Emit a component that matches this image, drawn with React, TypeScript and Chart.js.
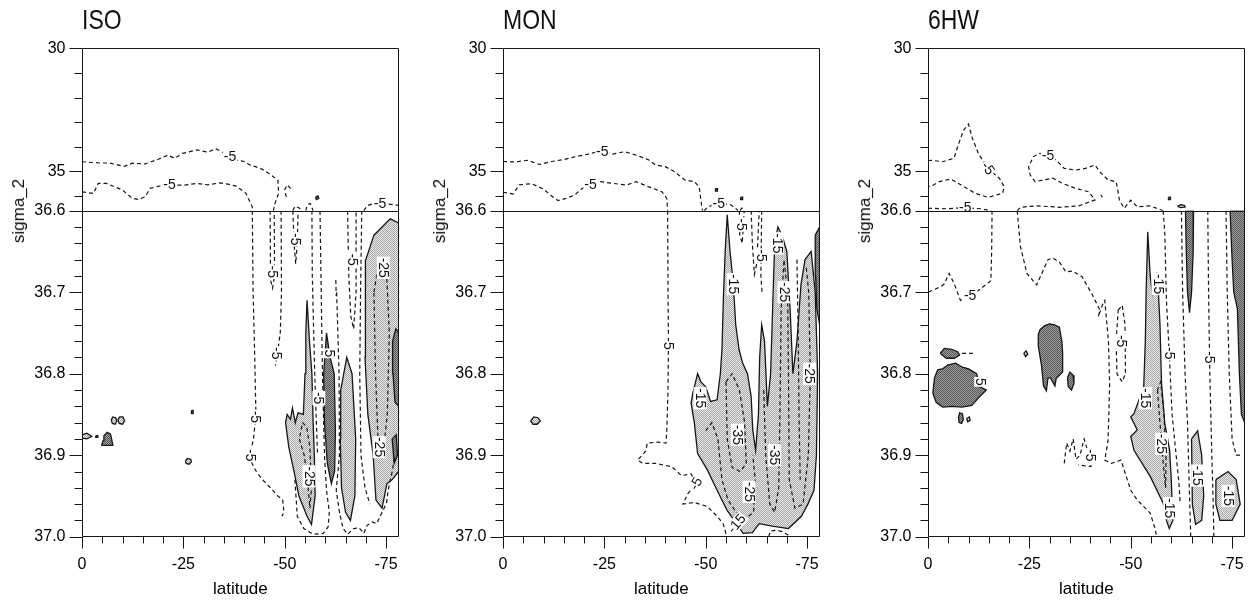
import React, { useEffect, useRef } from 'react';
import { Chart, registerables } from 'chart.js';

Chart.register(...registerables);

type Pt = [number, number];
type Sec = 'T' | 'B';
type Kind = 'dash' | 'light' | 'dark';
type Label = [number, number, string, number, Sec];

const FONT = '"Liberation Sans", Arial, Helvetica, sans-serif';

// ---------- axes ----------
const X_MIN = -78.1;
const X_MAX = 0;
const X_TICKS = [0, -25, -50, -75];
const X_MINOR = [-5, -10, -15, -20, -30, -35, -40, -45, -55, -60, -65, -70];
const Y_TOP_TICKS = [30, 35, 36.6];
const Y_TOP_MINOR = [31, 32, 33, 34, 36];
const Y_BOT_TICKS = [36.7, 36.8, 36.9, 37.0];
const Y_BOT_MINOR = [36.62, 36.64, 36.66, 36.68, 36.72, 36.74, 36.76, 36.78, 36.82, 36.84, 36.86, 36.88, 36.92, 36.94, 36.96, 36.98];
const TITLES = ['ISO', 'MON', '6HW'];

// ---------- ISO ----------
const ISO_T_UPPER: Pt[] = [[0,34.61],[-4.4,34.66],[-6.8,34.66],[-10.4,34.8],[-12.4,34.67],[-15.6,34.7],[-18.8,34.51],[-21.2,34.34],[-22.8,34.47],[-24.8,34.27],[-28.4,34.13],[-31,34.22],[-33,34.08],[-35.5,34.3],[-38,34.54],[-40,34.6],[-41.5,34.75],[-42.8,34.81],[-44.5,34.92],[-46,35.08],[-48.3,35.35],[-48.5,35.89],[-47.6,36.3],[-47.2,36.6]];
const ISO_T_LOWER: Pt[] = [[0,35.83],[-2.8,35.9],[-4,35.49],[-6,35.49],[-10,35.76],[-12.4,36.1],[-14,36.14],[-15.6,36.03],[-16.8,35.69],[-19,35.6],[-21.6,35.56],[-25.2,35.56],[-28.4,35.49],[-31,35.55],[-34,35.47],[-36,35.52],[-38,35.6],[-40.4,35.89],[-42,36.44],[-42,36.6]];
const ISO_T_HOOK: Pt[] = [[-51.5,35.7],[-50.6,35.55],[-50,35.75],[-50.3,36.0],[-51,36.1]];
const ISO_T_ARCH1: Pt[] = [[-52,36.6],[-52.5,36.42],[-53.5,36.48],[-54.3,36.6]];
const ISO_T_ARCH2: Pt[] = [[-55.2,36.6],[-55.5,36.38],[-56.3,36.3],[-57,36.6]];
const ISO_T_RIGHT: Pt[] = [[-69.5,36.6],[-70.3,36.4],[-72,36.3],[-75,36.32],[-78.1,36.38]];
const ISO_T_DOT: Pt[] = [[-57.6,36.05],[-58.2,36.0],[-58.4,36.1],[-57.8,36.15],[-57.6,36.05]];
const ISO_B_OUTER: Pt[] = [[-42,36.6],[-42.2,36.7],[-42.6,36.78],[-42.9,36.85],[-42.3,36.88],[-41.6,36.895],[-41.9,36.91],[-43,36.92],[-44.5,36.93],[-46.5,36.94],[-48.3,36.95],[-49.5,36.955],[-49.8,36.97],[-49.3,36.975]];
const ISO_B_LOOP: Pt[] = [[-46.4,36.6],[-46.5,36.685],[-47,36.695],[-47.5,36.68],[-47.4,36.6]];
const ISO_B_D3: Pt[] = [[-49.1,36.6],[-49.2,36.7],[-48.9,36.75],[-48.2,36.775],[-47.7,36.79]];
const ISO_B_D4: Pt[] = [[-52,36.6],[-52.3,36.64],[-52.7,36.665],[-53.1,36.64],[-53.3,36.6]];
const ISO_B_D5: Pt[] = [[-56.7,36.6],[-56.8,36.68],[-57.1,36.74],[-57.4,36.8],[-57.8,36.86],[-58.1,36.9]];
const ISO_B_U1: Pt[] = [[-52.5,36.93],[-53.1,36.975],[-54.7,36.99],[-57,36.997],[-59.5,36.996],[-60.7,36.988],[-61,36.97],[-60.3,36.943],[-59.8,36.9],[-59.3,36.8],[-59,36.7],[-58.7,36.6]];
const ISO_B_U2: Pt[] = [[-62.8,36.7],[-63.4,36.8],[-63.5,36.9],[-62.7,36.943],[-63.5,36.97],[-64.4,36.99],[-65.5,36.997],[-67,36.99],[-68.3,36.989],[-69.5,36.996],[-70.3,36.986],[-71.6,36.982],[-72.7,36.984],[-73.5,36.975],[-75.1,36.959],[-75.5,36.943],[-76.5,36.92],[-77.2,36.9]];
const ISO_B_DOTS: Pt[] = [[-62.6,36.685],[-62.7,36.705]];
const ISO_B_D6: Pt[] = [[-65.5,36.6],[-65.8,36.68],[-66.3,36.73],[-67,36.745],[-67.6,36.7],[-67.6,36.6]];
const ISO_B_D7: Pt[] = [[-69,36.6],[-68.7,36.7],[-68.5,36.8],[-68.8,36.9],[-69.8,36.94],[-71,36.96]];
const ISO_B_L1: Pt[] = [[-55.5,36.71],[-56.1,36.76],[-56.7,36.8],[-57,36.86],[-57.3,36.9],[-57.5,36.95],[-56.6,36.985],[-55.5,36.975],[-53.5,36.95],[-52.3,36.92],[-51,36.89],[-50.2,36.86],[-50.6,36.85],[-51.4,36.856],[-51.9,36.842],[-52.6,36.86],[-53.3,36.848],[-54.6,36.85],[-55,36.8],[-55.2,36.75],[-55.5,36.71]];
const ISO_B_L1_IN: Pt[] = [[-53.6,36.88],[-54.8,36.9],[-55.6,36.93],[-56.2,36.965],[-56.6,36.94],[-56.2,36.89],[-55.4,36.865],[-54.4,36.86],[-53.6,36.88]];
const ISO_B_DK1: Pt[] = [[-60.3,36.75],[-61.2,36.78],[-62.2,36.8],[-62.5,36.87],[-62.3,36.92],[-61.5,36.935],[-60.5,36.91],[-59.8,36.86],[-59.6,36.8],[-60.3,36.75]];
const ISO_B_L2: Pt[] = [[-63.8,36.82],[-65.3,36.78],[-66.6,36.8],[-67.5,36.88],[-67.3,36.95],[-66.2,36.98],[-65,36.97],[-64,36.94],[-63.7,36.88],[-63.8,36.82]];
const ISO_B_L3: Pt[] = [[-70,36.66],[-72,36.63],[-74,36.62],[-76,36.61],[-78.1,36.615],[-78.1,36.92],[-76.5,36.93],[-75.2,36.935],[-74,36.965],[-72.5,36.955],[-71.8,36.9],[-70.5,36.85],[-69.8,36.78],[-69.8,36.7],[-70,36.66]];
const ISO_B_L3_IN: Pt[] = [[-72,36.7],[-73.3,36.66],[-75,36.665],[-75.8,36.75],[-75.3,36.85],[-74.2,36.9],[-73,36.88],[-72.4,36.8],[-72,36.7]];
const ISO_B_DK2: Pt[] = [[-76.6,36.76],[-77.4,36.745],[-78.1,36.75],[-78.1,36.84],[-77.2,36.835],[-76.7,36.8],[-76.6,36.76]];
const ISO_B_DK3: Pt[] = [[-76.5,36.88],[-77.5,36.875],[-77.8,36.9],[-77,36.91],[-76.5,36.88]];
const ISO_B_BLOB: Pt[] = [[-4.8,36.888],[-5.2,36.882],[-5.4,36.876],[-6.2,36.872],[-7,36.874],[-7.3,36.88],[-7.6,36.888],[-4.8,36.888]];
const ISO_B_O1: Pt[] = [[-7.2,36.857],[-7.6,36.853],[-8.3,36.854],[-8.6,36.858],[-8.2,36.862],[-7.5,36.861],[-7.2,36.857]];
const ISO_B_O2: Pt[] = [[-8.8,36.857],[-9.3,36.853],[-10.1,36.853],[-10.5,36.858],[-10,36.862],[-9.2,36.861],[-8.8,36.857]];
const ISO_B_TEAR: Pt[] = [[0,36.875],[-1.2,36.873],[-2.4,36.877],[-1.2,36.88],[0,36.879]];
const ISO_B_DOT1: Pt[] = [[-3.4,36.876],[-3.9,36.876],[-3.9,36.878],[-3.4,36.878],[-3.4,36.876]];
const ISO_B_ELL: Pt[] = [[-25.5,36.907],[-26,36.904],[-26.8,36.905],[-27,36.908],[-26.4,36.911],[-25.7,36.91],[-25.5,36.907]];
const ISO_B_DOT2: Pt[] = [[-27,36.845],[-27.4,36.845],[-27.4,36.849],[-27,36.849],[-27,36.845]];
const ISO_LABELS: Label[] = [
  [-36.5,34.42,'-5',0,'T'],[-21.6,35.56,'-5',0,'T'],[-73.5,36.3,'-5',0,'T'],
  [-46.9,36.675,'-5',90,'B'],[-47.9,36.775,'-5',90,'B'],[-52.5,36.635,'-5',90,'B'],[-42.8,36.853,'-5',90,'B'],
  [-41.6,36.9,'-5',90,'B'],[-56,36.926,'-25',90,'B'],[-61,36.775,'5',90,'B'],[-66.6,36.66,'-5',90,'B'],
  [-74.3,36.67,'-25',90,'B'],[-73.3,36.89,'-25',90,'B'],[-58.4,36.83,'-5',90,'B'],
];

// ---------- MON ----------
const MON_T_UPPER: Pt[] = [[0,34.6],[-3,34.62],[-6,34.55],[-9,34.72],[-12,34.6],[-15,34.52],[-18,34.4],[-21,34.3],[-24,34.18],[-27,34.3],[-30,34.2],[-33,34.35],[-36,34.54],[-37.6,34.74],[-40,34.81],[-42.4,35.02],[-44.8,35.35],[-47.2,35.42],[-48.4,35.63],[-48.8,36.17],[-49.2,36.6]];
const MON_T_LOWER: Pt[] = [[0,35.85],[-2.5,35.92],[-4,35.55],[-7,35.5],[-10,35.72],[-12,36.0],[-13.6,36.19],[-15.5,36.1],[-17.6,35.97],[-19.5,35.7],[-21.6,35.56],[-24,35.42],[-27.2,35.49],[-30.4,35.56],[-32.8,35.42],[-36,35.63],[-39.2,35.83],[-40.4,36.1],[-40.6,36.6]];
const MON_T_RIGHT: Pt[] = [[-49.6,36.6],[-50.5,36.45],[-52,36.35],[-53.2,36.3],[-54.5,36.32],[-56,36.35],[-57,36.45],[-58,36.6]];
const MON_T_HOOK: Pt[] = [[-58.5,36.6],[-58.8,36.5],[-59.6,36.52]];
const MON_T_DOT1: Pt[] = [[-52.4,35.7],[-52.9,35.7],[-52.9,35.8],[-52.4,35.8],[-52.4,35.7]];
const MON_T_DOT2: Pt[] = [[-58.6,36.05],[-59.1,36.05],[-59.1,36.15],[-58.6,36.15],[-58.6,36.05]];
const MON_B_LONG: Pt[] = [[-40.6,36.6],[-40.7,36.7],[-40.8,36.76],[-40.7,36.82],[-40.4,36.869],[-40.2,36.885],[-38,36.884],[-35.6,36.885],[-35.2,36.895],[-33.2,36.906],[-34.5,36.91],[-37.6,36.91],[-39.5,36.912],[-41.6,36.914],[-44,36.925],[-46.4,36.923],[-47.6,36.935],[-45.6,36.947],[-44.4,36.96],[-47.2,36.958],[-50.4,36.963],[-52.8,36.975],[-54.3,36.984],[-55.2,37.0]];
const MON_B_LOOP1: Pt[] = [[-58.3,36.6],[-58.4,36.63],[-59,36.64],[-59.5,36.6]];
const MON_B_LOOP2: Pt[] = [[-61.2,36.6],[-61.5,36.64],[-62,36.678],[-62.6,36.665],[-63,36.62],[-63.2,36.6]];
const MON_B_VERT: Pt[] = [[-63.8,36.6],[-63.7,36.64],[-63.6,36.68],[-63.9,36.7]];
const MON_B_LIGHT: Pt[] = [[-55.3,36.605],[-56,36.65],[-56.8,36.69],[-57.4,36.74],[-58.2,36.77],[-59.1,36.787],[-60.3,36.8],[-61.2,36.828],[-61.6,36.869],[-62.3,36.894],[-63,36.85],[-63.3,36.78],[-63.8,36.74],[-64.5,36.76],[-65.2,36.84],[-66,36.8],[-66.5,36.72],[-67,36.64],[-67.8,36.62],[-68.8,36.63],[-70,36.65],[-70.8,36.72],[-71.5,36.8],[-72.5,36.76],[-73.5,36.69],[-74.5,36.66],[-76,36.65],[-77,36.7],[-77.6,36.8],[-77.3,36.9],[-76.7,36.943],[-75.2,36.96],[-73.6,36.975],[-70.4,36.99],[-66.4,36.987],[-63.2,36.984],[-61.5,36.995],[-59.2,36.996],[-57.6,36.984],[-55.2,36.967],[-52.8,36.943],[-50.4,36.918],[-48,36.898],[-47.2,36.861],[-46.4,36.836],[-46.8,36.824],[-48,36.8],[-48.8,36.81],[-50,36.816],[-51.2,36.834],[-52.8,36.832],[-53.6,36.8],[-54,36.771],[-54.4,36.7],[-54.8,36.65],[-55.3,36.605]];
const MON_B_IN35: Pt[] = [[-55,36.81],[-56.5,36.8],[-58.3,36.82],[-59.6,36.86],[-60,36.91],[-58.5,36.92],[-56.5,36.915],[-55.3,36.88],[-55,36.81]];
const MON_B_IN25: Pt[] = [[-50,36.87],[-51.5,36.86],[-53,36.88],[-54,36.93],[-55.5,36.955],[-57.5,36.97],[-60,36.977],[-61.8,36.97],[-62.2,36.93],[-61.6,36.9]];
const MON_B_INR: Pt[] = [[-64.3,36.82],[-64.8,36.9],[-65.8,36.96],[-67,36.97],[-68,36.94],[-68.3,36.85],[-68.6,36.72],[-69.3,36.66],[-70.2,36.7],[-70.4,36.8],[-70.6,36.93],[-72,36.965],[-74,36.96],[-75.3,36.9],[-75.8,36.8],[-75.4,36.7],[-74.8,36.67]];
const MON_B_INV: Pt[] = [[-72.5,36.66],[-72.8,36.75],[-73,36.85],[-73.3,36.93]];
const MON_B_DARK: Pt[] = [[-77,36.63],[-78.1,36.62],[-78.1,36.74],[-77.4,36.72],[-77.1,36.68],[-77,36.63]];
const MON_B_U: Pt[] = [[-65.5,37.0],[-66,36.993],[-67.5,36.992],[-69,36.994],[-70,36.997],[-71,37.0]];
const MON_B_BLOB: Pt[] = [[-6.8,36.858],[-7.6,36.853],[-8.6,36.854],[-9.2,36.858],[-8.4,36.862],[-7.4,36.862],[-6.8,36.858]];
const MON_LABELS: Label[] = [
  [-24.5,34.2,'-5',0,'T'],[-21.6,35.56,'-5',0,'T'],[-53.2,36.3,'-5',0,'T'],
  [-40.8,36.763,'-5',90,'B'],[-58.7,36.617,'-5',90,'B'],[-63.6,36.655,'-5',90,'B'],
  [-56.8,36.69,'-15',90,'B'],[-48.6,36.83,'-15',90,'B'],[-57.8,36.875,'-35',90,'B'],
  [-60.7,36.945,'-25',90,'B'],[-57.6,36.984,'-15',-50,'B'],[-47.6,36.935,'-5',-60,'B'],
  [-69.3,36.7,'-25',90,'B'],[-67.6,36.64,'-15',90,'B'],[-67,36.9,'-35',90,'B'],[-75.6,36.8,'-25',90,'B'],
];

// ---------- 6HW ----------
const HW_T_LOOP: Pt[] = [[0,34.57],[-0.8,34.55],[-3.6,34.61],[-6.4,34.47],[-7.6,33.86],[-8.8,33.32],[-10,33.08],[-10.8,33.59],[-12.4,34.27],[-14.8,34.88],[-17.6,35.28],[-18.8,35.63],[-18.4,35.89],[-14.8,36.06],[-11.6,35.89],[-6.8,35.42],[-5.6,35.31],[-2.8,35.42],[-0.8,35.6],[0,35.62]];
const HW_T_LOW: Pt[] = [[0,36.5],[-4,36.52],[-9.2,36.48],[-13,36.52],[-15.6,36.6]];
const HW_T_LONG: Pt[] = [[-22,36.6],[-22.8,36.46],[-26.8,36.4],[-32.4,36.46],[-37.2,36.4],[-41.2,36.16],[-39.6,35.83],[-36.4,35.69],[-33.2,35.49],[-30.8,35.28],[-28.4,35.35],[-26.4,35.42],[-25.2,35.15],[-24.8,34.81],[-26,34.4],[-27.6,34.27],[-29.6,34.35],[-31.6,34.54],[-33.6,34.88],[-36.4,34.95],[-38.8,34.88],[-41.2,34.74],[-42.4,35.02],[-44.4,35.35],[-46.4,35.42],[-46.8,35.76],[-47.2,36.17],[-48.4,36.5],[-50,36.17],[-51.6,36.44],[-54.8,36.4],[-57.2,36.55],[-58,36.6]];
const HW_T_TICK: Pt[] = [[-42.6,35.95],[-43,36.05]];
const HW_T_DOT: Pt[] = [[-59.3,36.05],[-59.8,36.05],[-59.8,36.15],[-59.3,36.15],[-59.3,36.05]];
const HW_T_OO: Pt[] = [[-61.5,36.42],[-62.3,36.35],[-63.2,36.38],[-63.4,36.45],[-62.4,36.47],[-61.5,36.42]];
const HW_B_D1: Pt[] = [[-15.8,36.6],[-15.7,36.65],[-15.5,36.686],[-12.4,36.698],[-10.4,36.704],[-8,36.71],[-6.5,36.69],[-5.2,36.677],[-4,36.69],[-2.8,36.694],[0,36.7]];
const HW_B_D2: Pt[] = [[-22,36.6],[-22.8,36.644],[-24.4,36.677],[-26.8,36.691],[-29.6,36.66],[-30.8,36.658],[-32.4,36.663],[-34,36.675],[-35.6,36.674],[-38,36.681],[-40.4,36.702],[-41.2,36.71],[-42.4,36.722],[-42,36.73],[-43.3,36.712],[-43.6,36.71],[-44.5,36.76],[-44.8,36.812],[-44.6,36.85],[-44.4,36.882],[-43.6,36.906],[-45.2,36.91],[-47.6,36.906],[-50,36.943],[-51.6,36.955],[-54.8,36.971],[-56,36.99],[-56.4,37.0]];
const HW_B_LOOP: Pt[] = [[-46.9,36.722],[-47.9,36.716],[-48.6,36.74],[-48.7,36.8],[-47.9,36.81],[-46.6,36.8],[-46.4,36.76],[-46.9,36.722]];
const HW_B_D3: Pt[] = [[-58,36.6],[-58.4,36.628],[-58.8,36.71],[-59.5,36.775],[-60.2,36.85],[-61.2,36.9],[-61.9,36.935],[-62.2,36.96]];
const HW_B_ZIG: Pt[] = [[-33.6,36.91],[-34.2,36.885],[-35,36.895],[-35.8,36.88],[-36.5,36.905],[-37.5,36.9],[-38.5,36.88],[-39.4,36.895],[-40.2,36.914],[-38.8,36.913],[-37,36.912]];
const HW_B_LIGHT: Pt[] = [[-54.2,36.626],[-54.8,36.68],[-55.3,36.7],[-55.8,36.68],[-56.4,36.677],[-56.8,36.698],[-57.2,36.738],[-57.6,36.812],[-58.4,36.861],[-59.6,36.894],[-60,36.931],[-60.4,36.98],[-59.5,36.99],[-58.8,36.98],[-58,36.959],[-54.8,36.926],[-50.8,36.894],[-50,36.877],[-51.6,36.869],[-50,36.853],[-50.8,36.849],[-53.2,36.816],[-53.6,36.76],[-53.8,36.7],[-54.2,36.626]];
const HW_B_LIGHT_IN: Pt[] = [[-56.6,36.82],[-57.2,36.86],[-58.2,36.92],[-58.6,36.94],[-58.7,36.9],[-58.2,36.85],[-57.4,36.81],[-56.6,36.82]];
const HW_B_DK1: Pt[] = [[-2.4,36.795],[-3.6,36.794],[-5,36.789],[-6.8,36.787],[-8.5,36.792],[-10,36.794],[-12,36.8],[-12.8,36.816],[-14.4,36.82],[-13.2,36.826],[-12.4,36.83],[-10.8,36.839],[-8.4,36.841],[-6,36.84],[-3.6,36.841],[-2,36.835],[-1.2,36.824],[-1.6,36.805],[-2.4,36.795]];
const HW_B_DK2: Pt[] = [[-3,36.775],[-4,36.769],[-5.8,36.77],[-7.3,36.773],[-7.8,36.777],[-6.5,36.781],[-4.5,36.781],[-3,36.775]];
const HW_B_TAIL: Pt[] = [[-8.4,36.775],[-11.2,36.775]];
const HW_B_DK3: Pt[] = [[-7.5,36.854],[-7.8,36.848],[-8.5,36.849],[-8.7,36.856],[-8.3,36.861],[-7.7,36.86],[-7.5,36.854]];
const HW_B_O1: Pt[] = [[-9.5,36.855],[-10.2,36.853],[-10.4,36.857],[-9.8,36.859],[-9.5,36.855]];
const HW_B_O2: Pt[] = [[-23.6,36.775],[-24.2,36.772],[-24.6,36.776],[-24.1,36.779],[-23.6,36.775]];
const HW_B_DK4: Pt[] = [[-27.6,36.746],[-28.8,36.741],[-30,36.739],[-31.2,36.74],[-32.4,36.743],[-33,36.76],[-33.2,36.774],[-33.2,36.798],[-31.6,36.806],[-31.3,36.815],[-30.2,36.805],[-29.6,36.805],[-29.2,36.821],[-28.5,36.815],[-28,36.79],[-27.2,36.766],[-27.2,36.752],[-27.6,36.746]];
const HW_B_DK5: Pt[] = [[-34.4,36.805],[-35,36.798],[-35.8,36.802],[-36,36.812],[-35.4,36.82],[-34.6,36.816],[-34.4,36.805]];
const HW_B_DKA: Pt[] = [[-63.5,36.6],[-65.5,36.6],[-65.4,36.65],[-65,36.7],[-64.5,36.725],[-64,36.7],[-63.7,36.65],[-63.5,36.6]];
const HW_B_DKB: Pt[] = [[-74.5,36.6],[-78.1,36.6],[-78.1,36.86],[-77.3,36.85],[-76.8,36.8],[-76.3,36.72],[-75.4,36.7],[-75,36.66],[-74.5,36.6]];
const HW_B_LB: Pt[] = [[-76.8,36.7],[-77.6,36.68],[-78.1,36.7],[-78.1,36.8],[-77.5,36.79],[-77,36.76],[-76.8,36.7]];
const HW_B_L2: Pt[] = [[-65,36.88],[-66.5,36.87],[-67.5,36.9],[-68,36.95],[-67.5,36.98],[-66,36.985],[-65.2,36.96],[-65,36.88]];
const HW_B_L3: Pt[] = [[-71,36.93],[-74,36.92],[-76,36.93],[-77,36.96],[-75,36.98],[-72,36.98],[-71,36.96],[-71,36.93]];
const HW_B_R1: Pt[] = [[-62.5,36.6],[-62.8,36.7],[-63.4,36.8],[-64,36.86],[-64.5,36.95],[-64.8,37.0]];
const HW_B_R2: Pt[] = [[-69,36.6],[-69.2,36.7],[-69.5,36.8],[-70,36.9],[-70.3,36.95],[-70.5,37.0]];
const HW_B_R3: Pt[] = [[-73.5,36.6],[-73.8,36.7],[-74.3,36.8],[-75,36.88],[-76,36.9],[-77.5,36.9]];
const HW_LABELS: Label[] = [
  [-14.8,34.88,'-5',55,'T'],[-9.2,36.48,'-5',0,'T'],[-29.6,34.35,'-5',0,'T'],
  [-10.4,36.704,'-5',0,'B'],[-47.6,36.76,'-5',90,'B'],[-59.5,36.775,'-5',90,'B'],[-40,36.9,'-5',90,'B'],
  [-56.7,36.69,'-15',90,'B'],[-53.6,36.83,'-15',90,'B'],[-57.6,36.886,'-25',90,'B'],[-59.6,36.965,'-15',90,'B'],
  [-66.5,36.925,'-15',90,'B'],[-74,36.95,'-15',90,'B'],[-69.4,36.78,'-5',90,'B'],[-13,36.81,'5',90,'B'],
];

// ---------- contour tables ----------
type Contour = { sec: Sec; kind: Kind; pts: Pt[] };
const c = (sec: Sec, kind: Kind, pts: Pt[]): Contour => ({ sec, kind, pts });

const ISO_CONTOURS: Contour[] = [
  c('T','dash',ISO_T_UPPER), c('T','dash',ISO_T_LOWER), c('T','dash',ISO_T_HOOK), c('T','dash',ISO_T_ARCH1),
  c('T','dash',ISO_T_ARCH2), c('T','dash',ISO_T_RIGHT), c('T','dark',ISO_T_DOT),
  c('B','light',ISO_B_L1), c('B','light',ISO_B_L2), c('B','light',ISO_B_L3),
  c('B','dark',ISO_B_DK1), c('B','dark',ISO_B_DK2), c('B','dark',ISO_B_DK3), c('B','dark',ISO_B_BLOB),
  c('B','light',ISO_B_O1), c('B','light',ISO_B_O2), c('B','light',ISO_B_TEAR), c('B','dark',ISO_B_DOT1),
  c('B','light',ISO_B_ELL), c('B','dark',ISO_B_DOT2),
  c('B','dash',ISO_B_OUTER), c('B','dash',ISO_B_LOOP), c('B','dash',ISO_B_D3), c('B','dash',ISO_B_D4),
  c('B','dash',ISO_B_D5), c('B','dash',ISO_B_U1), c('B','dash',ISO_B_U2), c('B','dash',ISO_B_DOTS),
  c('B','dash',ISO_B_D6), c('B','dash',ISO_B_D7), c('B','dash',ISO_B_L1_IN), c('B','dash',ISO_B_L3_IN),
];
const MON_CONTOURS: Contour[] = [
  c('T','dash',MON_T_UPPER), c('T','dash',MON_T_LOWER), c('T','dash',MON_T_RIGHT), c('T','dash',MON_T_HOOK),
  c('T','dark',MON_T_DOT1), c('T','dark',MON_T_DOT2),
  c('B','light',MON_B_LIGHT), c('B','dark',MON_B_DARK), c('B','light',MON_B_BLOB),
  c('B','dash',MON_B_LONG), c('B','dash',MON_B_LOOP1), c('B','dash',MON_B_LOOP2), c('B','dash',MON_B_VERT),
  c('B','dash',MON_B_IN35), c('B','dash',MON_B_IN25), c('B','dash',MON_B_INR), c('B','dash',MON_B_INV),
  c('B','dash',MON_B_U),
];
const HW_CONTOURS: Contour[] = [
  c('T','dash',HW_T_LOOP), c('T','dash',HW_T_LOW), c('T','dash',HW_T_LONG), c('T','dash',HW_T_TICK),
  c('T','dark',HW_T_DOT), c('T','light',HW_T_OO),
  c('B','light',HW_B_LIGHT), c('B','light',HW_B_L2), c('B','light',HW_B_L3),
  c('B','dark',HW_B_DK1), c('B','dark',HW_B_DK2), c('B','dark',HW_B_DK3), c('B','light',HW_B_O1),
  c('B','light',HW_B_O2), c('B','dark',HW_B_DK4), c('B','dark',HW_B_DK5), c('B','dark',HW_B_DKA),
  c('B','dark',HW_B_DKB), c('B','light',HW_B_LB),
  c('B','dash',HW_B_D1), c('B','dash',HW_B_D2), c('B','dash',HW_B_LOOP), c('B','dash',HW_B_D3),
  c('B','dash',HW_B_ZIG), c('B','dash',HW_B_LIGHT_IN), c('B','dash',HW_B_TAIL),
  c('B','dash',HW_B_R1), c('B','dash',HW_B_R2), c('B','dash',HW_B_R3),
];

// ---------- layout ----------
const PANEL_LEFT = [82, 503, 928];
const AXIS_W = 72;
const PLOT_W = 325.5;
const CANVAS_W = 406;
const H = 601;
const PLOT_TOP = 48.3;
const PLOT_BOTTOM = 536.7;

type PanelCfg = { title: string; left: number; contours: Contour[]; labels: Label[] };
const PANELS: PanelCfg[] = [
  { title: TITLES[0], left: PANEL_LEFT[0], contours: ISO_CONTOURS, labels: ISO_LABELS },
  { title: TITLES[1], left: PANEL_LEFT[1], contours: MON_CONTOURS, labels: MON_LABELS },
  { title: TITLES[2], left: PANEL_LEFT[2], contours: HW_CONTOURS, labels: HW_LABELS },
];

function makePattern(ctx: CanvasRenderingContext2D, a: string, b: string) {
  const p = document.createElement('canvas');
  p.width = 2; p.height = 2;
  const g = p.getContext('2d')!;
  g.fillStyle = a; g.fillRect(0, 0, 2, 2);
  g.fillStyle = b; g.fillRect(0, 0, 1, 1); g.fillRect(1, 1, 1, 1);
  return ctx.createPattern(p, 'repeat')!;
}

const LINE = '#161616';

function Panel({ cfg }: { cfg: PanelCfg }) {
  const ref = useRef<HTMLCanvasElement>(null);
  useEffect(() => {
    const canvas = ref.current!;
    const ctx = canvas.getContext('2d')!;
    const light = makePattern(ctx, '#e4e4e4', '#acacac');
    const dark = makePattern(ctx, '#9a9a9a', '#5a5a5a');

    const datasets = cfg.contours.map((ct) => ({
      type: 'line' as const,
      data: ct.pts.map(([x, y]) => ({ x, y })),
      yAxisID: ct.sec === 'T' ? 'yT' : 'yB',
      borderColor: LINE,
      borderWidth: ct.kind === 'dash' ? 1.2 : 1.3,
      borderDash: ct.kind === 'dash' ? [4, 3] : [],
      pointRadius: 0,
      tension: 0,
      fill: ct.kind === 'dash' ? false : 'shape',
      backgroundColor: ct.kind === 'light' ? light : ct.kind === 'dark' ? dark : 'transparent',
      order: ct.kind === 'light' ? 3 : ct.kind === 'dark' ? 2 : 1,
    }));

    const tickFont = { family: FONT, size: 16 };

    const overlay = {
      id: 'overlay',
      afterDatasetsDraw(chart: any) {
        const g: CanvasRenderingContext2D = chart.ctx;
        const a = chart.chartArea;
        const xs = chart.scales.x, yT = chart.scales.yT, yB = chart.scales.yB;
        g.save();
        g.beginPath(); g.rect(a.left, a.top, a.right - a.left, a.bottom - a.top); g.clip();
        g.font = '14px ' + FONT;
        g.textAlign = 'center';
        g.textBaseline = 'middle';
        for (const [lat, sig, txt, rot, sec] of cfg.labels) {
          const px = xs.getPixelForValue(lat);
          const py = (sec === 'T' ? yT : yB).getPixelForValue(sig);
          g.save();
          g.translate(px, py);
          g.rotate((rot * Math.PI) / 180);
          const w = g.measureText(txt).width;
          g.fillStyle = '#fff';
          g.fillRect(-w / 2 - 1, -6.5, w + 2, 13);
          g.fillStyle = '#111';
          g.fillText(txt, 0, 0.5);
          g.restore();
        }
        g.restore();
        g.save();
        g.strokeStyle = LINE;
        g.lineWidth = 1;
        const L = Math.round(a.left) + 0.5, R = Math.round(a.right) - 0.5;
        const T = Math.round(a.top) + 0.5, B = Math.round(a.bottom) - 0.5;
        g.beginPath();
        g.rect(L, T, R - L, B - T);
        const yd = Math.round(yT.getPixelForValue(36.6)) + 0.5;
        g.moveTo(L, yd); g.lineTo(R, yd);
        const ytick = (sc: any, v: number, len: number) => {
          const y = Math.round(sc.getPixelForValue(v)) + 0.5;
          g.moveTo(L - len, y); g.lineTo(L, y);
        };
        Y_TOP_TICKS.forEach((v) => ytick(yT, v, 13));
        Y_TOP_MINOR.forEach((v) => ytick(yT, v, 8));
        Y_BOT_TICKS.forEach((v) => ytick(yB, v, 13));
        Y_BOT_MINOR.forEach((v) => ytick(yB, v, 8));
        const xtick = (v: number, len: number) => {
          const x = Math.round(xs.getPixelForValue(v)) + 0.5;
          g.moveTo(x, B); g.lineTo(x, B + len);
        };
        X_TICKS.forEach((v) => xtick(v, 12));
        X_MINOR.forEach((v) => xtick(v, 7));
        g.stroke();
        g.restore();
      },
    };

    const yCommon = {
      type: 'linear' as const,
      position: 'left' as const,
      stack: 'sigma',
      reverse: true,
      grid: { display: false, drawTicks: false },
      border: { display: false },
      afterFit: (s: any) => { s.width = AXIS_W; },
    };

    const chart = new Chart(ctx, {
      type: 'line',
      data: { datasets: datasets as any },
      plugins: [overlay],
      options: {
        animation: false,
        responsive: false,
        maintainAspectRatio: false,
        events: [],
        layout: { padding: { left: 0, right: CANVAS_W - AXIS_W - PLOT_W, top: PLOT_TOP, bottom: 0 } },
        plugins: { legend: { display: false }, tooltip: { enabled: false }, title: { display: false } },
        scales: {
          x: {
            type: 'linear',
            position: 'bottom',
            reverse: true,
            min: X_MIN,
            max: X_MAX,
            grid: { display: false, drawTicks: false },
            border: { display: false },
            afterBuildTicks: (s: any) => { s.ticks = X_TICKS.map((v) => ({ value: v })); },
            ticks: { callback: (v: any) => String(v), font: tickFont, color: '#000', padding: 18, maxRotation: 0, autoSkip: false },
            title: { display: true, text: 'latitude', font: { family: FONT, size: 17 }, color: '#000', padding: { top: 4, bottom: 1 } },
            afterFit: (s: any) => { s.height = H - PLOT_BOTTOM; },
          },
          yT: {
            ...yCommon,
            min: 30,
            max: 36.6,
            stackWeight: 1,
            weight: 1,
            afterBuildTicks: (s: any) => { s.ticks = Y_TOP_TICKS.map((v) => ({ value: v })); },
            ticks: { callback: (v: any) => String(v), font: tickFont, color: '#000', padding: 16.5, autoSkip: false },
          },
          yB: {
            ...yCommon,
            min: 36.6,
            max: 37.0,
            stackWeight: 2.007,
            weight: 0,
            afterBuildTicks: (s: any) => { s.ticks = Y_BOT_TICKS.map((v) => ({ value: v })); },
            ticks: { callback: (v: any) => Number(v).toFixed(1), font: tickFont, color: '#000', padding: 16.5, autoSkip: false },
          },
        } as any,
      },
    });
    return () => chart.destroy();
  }, [cfg]);

  return (
    <canvas
      ref={ref}
      width={CANVAS_W}
      height={H}
      style={{ position: 'absolute', left: cfg.left - AXIS_W, top: 0, width: CANVAS_W, height: H }}
    />
  );
}

export default function App() {
  return (
    <div style={{ position: 'fixed', left: 0, top: 0, width: 1260, height: H, background: '#fff', overflow: 'hidden' }}>
      {PANELS.map((p) => (
        <React.Fragment key={p.title}>
          <Panel cfg={p} />
          <div
            style={{
              position: 'absolute', left: p.left, top: 6, fontFamily: FONT, fontSize: 28, lineHeight: '28px',
              color: '#111', transform: 'scaleX(0.82)', transformOrigin: 'left top', whiteSpace: 'nowrap',
            }}
          >
            {p.title}
          </div>
          <div
            style={{
              position: 'absolute', left: p.left - 63, top: 211, fontFamily: FONT, fontSize: 17,
              color: '#111', transform: 'translate(-50%, -50%) rotate(-90deg)', whiteSpace: 'nowrap',
            }}
          >
            sigma_2
          </div>
        </React.Fragment>
      ))}
    </div>
  );
}
